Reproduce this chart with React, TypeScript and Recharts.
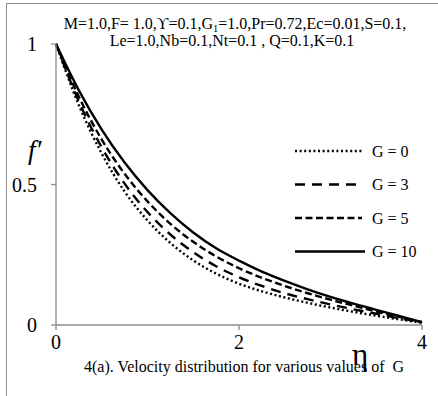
import React from 'react';
import { LineChart, Line, XAxis, YAxis, Legend } from 'recharts';

const etaValues = [0, 0.25, 0.5, 0.75, 1.0, 1.25, 1.5, 1.75, 2.0, 2.25, 2.5, 2.75, 3.0, 3.25, 3.5, 3.75, 4.0];
const g0 = [1, 0.782, 0.61, 0.475, 0.372, 0.292, 0.23, 0.183, 0.147, 0.12, 0.098, 0.079, 0.062, 0.047, 0.033, 0.02, 0.008];
const g3 = [1, 0.795, 0.632, 0.503, 0.402, 0.322, 0.259, 0.209, 0.17, 0.139, 0.113, 0.092, 0.073, 0.056, 0.04, 0.024, 0.009];
const g5 = [1, 0.812, 0.66, 0.538, 0.44, 0.36, 0.296, 0.244, 0.202, 0.168, 0.139, 0.113, 0.09, 0.069, 0.048, 0.029, 0.01];
const g10 = [1, 0.835, 0.695, 0.578, 0.48, 0.398, 0.329, 0.273, 0.229, 0.19, 0.157, 0.127, 0.1, 0.076, 0.054, 0.032, 0.01];

const seriesKeys = ['g0', 'g3', 'g5', 'g10'];
const seriesNames = ['G = 0', 'G = 3', 'G = 5', 'G = 10'];
const seriesDash = ['2 2.6', '10 7', '7 3.5', ''];

const xTicks = [0, 2, 4];
const yTicks = [0, 0.5, 1];

const data = etaValues.map((eta, i) => ({ eta, g0: g0[i], g3: g3[i], g5: g5[i], g10: g10[i] }));

const FONT = '"Liberation Serif", "Times New Roman", serif';
const AXIS = '#8c8c8c';

const renderLegend = () => (
  <svg width={140} height={130} style={{ display: 'block' }}>
    {seriesNames.map((name, i) => {
      const cy = 16 + i * 33.5;
      return (
        <g key={name}>
          <line x1={5} x2={i === 3 ? 75 : 72} y1={cy} y2={cy} stroke="#000" strokeWidth={2.4} strokeDasharray={seriesDash[i] || undefined} />
          <text x={82} y={cy + 5.5} fontFamily={FONT} fontSize={16} fill="#000">{name}</text>
        </g>
      );
    })}
  </svg>
);

export default function App() {
  return (
    <div style={{ position: 'absolute', left: 0, top: 0, width: 438, height: 396, overflow: 'hidden', background: '#fff' }}>
      <div style={{ position: 'absolute', left: 6, top: 3, width: 460, height: 420, borderLeft: `1.5px solid ${AXIS}`, borderTop: `1.5px solid ${AXIS}` }} />
      <div style={{ position: 'absolute', left: 0, top: 0 }}>
        <LineChart width={438} height={396} data={data} margin={{ top: 44, right: 16, bottom: 41, left: 8 }}>
          <XAxis
            dataKey="eta"
            type="number"
            domain={[0, 4]}
            ticks={xTicks}
            height={30}
            stroke={AXIS}
            strokeWidth={1.3}
            tickSize={5}
            tickMargin={5}
            tick={{ fill: '#000', fontSize: 20, fontFamily: FONT }}
          />
          <YAxis
            type="number"
            domain={[0, 1]}
            ticks={yTicks}
            width={48}
            stroke={AXIS}
            strokeWidth={1.3}
            tickSize={5}
            tickMargin={14}
            tick={{ fill: '#000', fontSize: 20, fontFamily: FONT }}
          />
          {seriesKeys.map((k, i) => (
            <Line
              key={k}
              dataKey={k}
              name={seriesNames[i]}
              type="monotone"
              stroke="#000"
              strokeWidth={2.4}
              strokeDasharray={seriesDash[i] || undefined}
              dot={false}
              isAnimationActive={false}
            />
          ))}
          <Legend
            layout="vertical"
            align="center"
            verticalAlign="middle"
            wrapperStyle={{ left: 290, top: 135, width: 140, height: 130 }}
            content={renderLegend}
          />
        </LineChart>
      </div>
      <svg width={438} height={396} style={{ position: 'absolute', left: 0, top: 0, pointerEvents: 'none' }}>
        <text x={235} y={29} textAnchor="middle" fontFamily={FONT} fontSize={16} fill="#000">
          M=1.0,F= 1.0,ϒ=0.1,G<tspan fontSize={10.5} dy={2.5}>1</tspan><tspan dy={-2.5}>=1.0,Pr=0.72,Ec=0.01,S=0.1,</tspan>
        </text>
        <text x={232} y={45.5} textAnchor="middle" fontFamily={FONT} fontSize={16} fill="#000">
          Le=1.0,Nb=0.1,Nt=0.1 , Q=0.1,K=0.1
        </text>
        <text x={244} y={372} textAnchor="middle" fontFamily={FONT} fontSize={16} fill="#000" style={{ whiteSpace: 'pre' }}>
          {'4(a). Velocity distribution for various values of  G'}
        </text>
        <text x={28} y={159} fontFamily={FONT} fontSize={27} fontStyle="italic" fill="#000">f′</text>
        <text x={360} y={365} textAnchor="middle" fontFamily={FONT} fontSize={31} fill="#000">η</text>
      </svg>
    </div>
  );
}
